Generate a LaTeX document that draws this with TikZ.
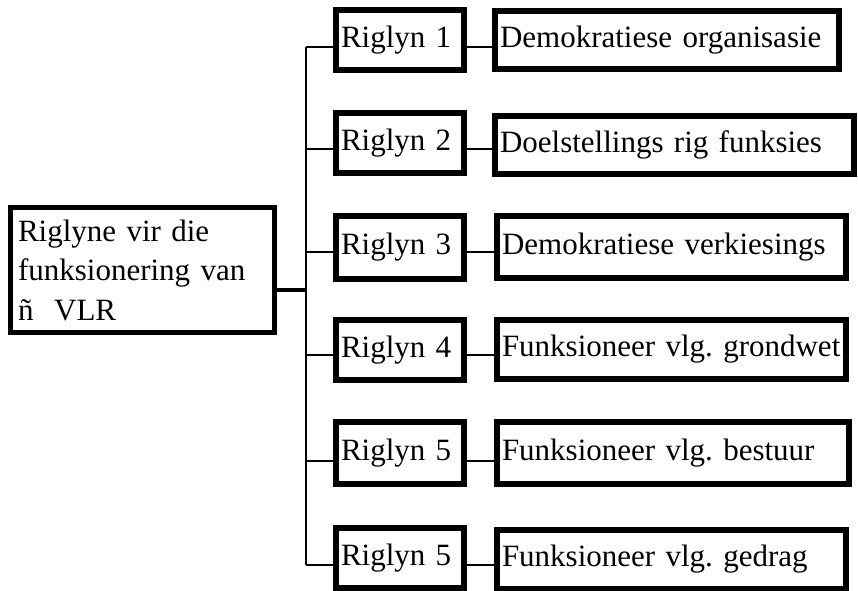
\documentclass[tikz,border=0pt]{standalone}
\usepackage{fontspec}
\setmainfont{Liberation Serif}
\frenchspacing
\begin{document}
\begin{tikzpicture}[x=1pt,y=-1pt,
  txt/.style={font=\fontsize{31}{39.5}\selectfont, align=left},
  rbox/.style={draw, line width=6pt, fill=white, txt, text height=21pt, text depth=7pt, inner ysep=0pt, inner xsep=5pt},
  mbox/.style={draw, line width=5pt, fill=white, txt, inner ysep=0pt, inner xsep=7.5pt},
  link/.style={line width=1.4pt}]
\useasboundingbox (0,0) rectangle (858,590);
% main box
\node[mbox, minimum width=264pt, minimum height=125pt, text width=249pt] (m) at (142.5,270) {Riglyne vir die\\funksionering van\\ñ\ \ VLR};
% riglyn boxes
\node[rbox, minimum width=128pt, minimum height=60pt, text width=118pt] (r1) at (400,40) {\mbox{Riglyn 1}};
\node[rbox, minimum width=128pt, minimum height=60pt, text width=118pt] (r2) at (400,143) {\mbox{Riglyn 2}};
\node[rbox, minimum width=128pt, minimum height=63pt, text width=118pt] (r3) at (400,247.5) {\mbox{Riglyn 3}};
\node[rbox, minimum width=128pt, minimum height=60pt, text width=118pt] (r4) at (400,350) {\mbox{Riglyn 4}};
\node[rbox, minimum width=128pt, minimum height=62pt, text width=118pt] (r5) at (400,453) {\mbox{Riglyn 5}};
\node[rbox, minimum width=128pt, minimum height=60pt, text width=118pt] (r6) at (400,558) {\mbox{Riglyn 5}};
% description boxes
\node[rbox, minimum width=344pt, minimum height=58pt, text width=334pt] (d1) at (667,40) {\mbox{Demokratiese organisasie}};
\node[rbox, minimum width=359pt, minimum height=58pt, text width=349pt] (d2) at (674.5,145) {\mbox{Doelstellings rig funksies}};
\node[rbox, minimum width=349pt, minimum height=62pt, text width=339pt] (d3) at (671.5,247) {\mbox{Demokratiese verkiesings}};
\node[rbox, minimum width=349pt, minimum height=59pt, text width=339pt] (d4) at (671.5,349.5) {\mbox{Funksioneer vlg. grondwet}};
\node[rbox, minimum width=352pt, minimum height=62pt, text width=342pt] (d5) at (673,453) {\mbox{Funksioneer vlg. bestuur}};
\node[rbox, minimum width=349pt, minimum height=59pt, text width=339pt] (d6) at (671.5,559.5) {\mbox{Funksioneer vlg. gedrag}};
% trunk coordinates
\coordinate (t1) at (306,47);
\coordinate (t2) at (306,149);
\coordinate (t3) at (306,252);
\coordinate (t4) at (306,355);
\coordinate (t5) at (306,461);
\coordinate (t6) at (306,565);
\coordinate (tm) at (306,290);
\draw[line width=2pt] (t1) -- (t6);
\draw[line width=4pt] (tm -| m.east) -- (tm);
\foreach \i in {1,...,6} {
  \draw[link] (t\i) -- (t\i -| r\i.west);
  \draw[link] (t\i -| r\i.east) -- (t\i -| d\i.west);
}
\end{tikzpicture}
\end{document}
